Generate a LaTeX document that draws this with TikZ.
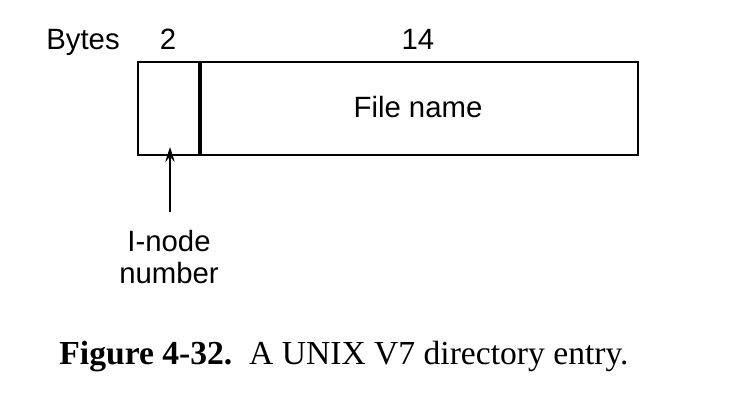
\documentclass[tikz,border=0pt]{standalone}
\usepackage{fontspec}
\setmainfont{Liberation Serif}
\setsansfont{Liberation Sans}
\usetikzlibrary{arrows.meta}
\begin{document}
\begin{tikzpicture}[x=0.75pt,y=-0.75pt,
  lbl/.style={font=\sffamily\fontsize{22}{24}\selectfont, inner sep=0pt},
  field/.style={draw=black, line width=1.5pt, inner sep=0pt},
  ptr/.style={-{Stealth[length=11pt,width=7pt]}, line width=1.1pt}]
\useasboundingbox (0,0) rectangle (733,407);
\draw[field] (138,62) rectangle (638,155);
\draw[line width=3pt] (200,62) -- (200,155);
\node[lbl, anchor=base] (bytes) at (83,50) {Bytes};
\node[lbl, anchor=base] (two) at (168,50) {2};
\node[lbl, anchor=base] (fourteen) at (418,50) {14};
\node[lbl] (fname) at (418,107) {File name};
\node[lbl, align=center, font=\sffamily\fontsize{22}{24}\selectfont] (inode) at (169,257) {I-node\\[0pt]number};
\coordinate (tail) at (170,212);
\coordinate (tip) at (170,147);
\draw[ptr] (tail) -- (tip);
\node[inner sep=0pt, font=\fontsize{25.2}{28}\selectfont] (cap) at (344,357) {\textbf{Figure 4-32.}\ \ A UNIX V7 directory entry.};
\end{tikzpicture}
\end{document}
